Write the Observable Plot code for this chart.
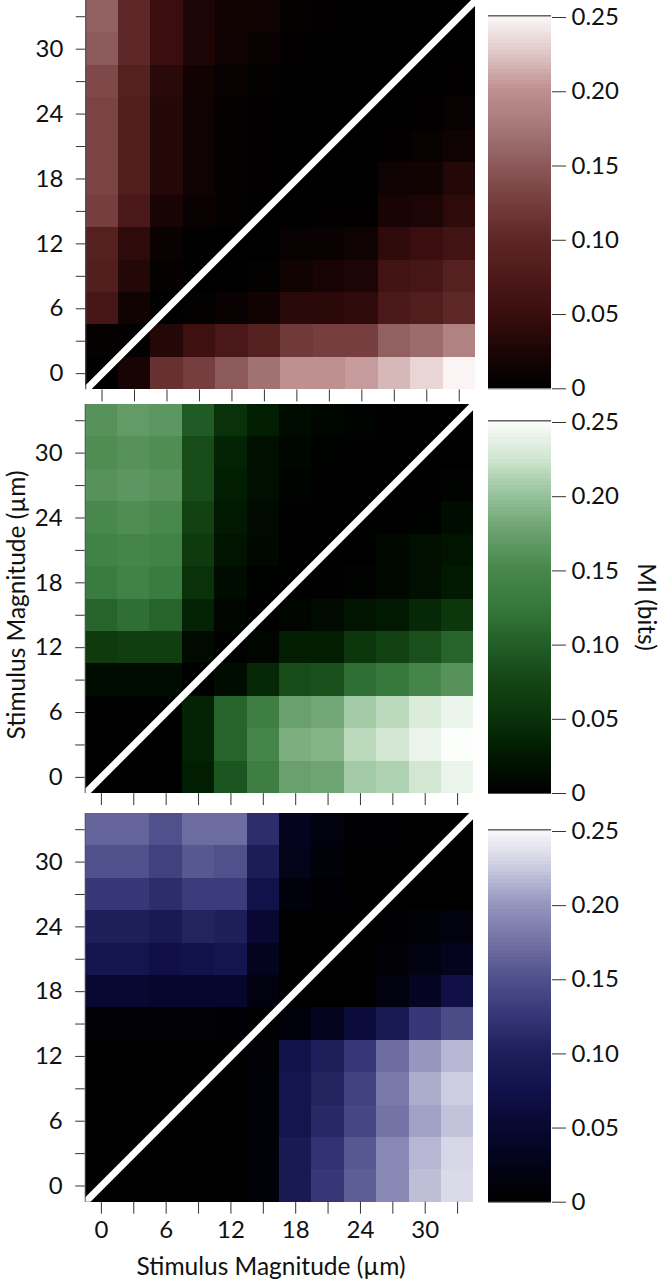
<!DOCTYPE html>
<html>
<head>
<meta charset="utf-8">
<script src="https://cdn.jsdelivr.net/npm/d3@7"></script>
<script src="https://cdn.jsdelivr.net/npm/@observablehq/plot@0.6"></script>
<style>
html,body{margin:0;padding:0;background:#fff;overflow:hidden}
#root{position:relative;width:662px;height:1280px;overflow:hidden;font-family:Lato,sans-serif;color:#111}
#root svg{position:absolute;background:transparent;overflow:visible;font-family:Lato,sans-serif}
.lab{position:absolute;font-size:24.5px;white-space:nowrap;line-height:1}
</style>
</head>
<body>
<div id="root"></div>
<script>
const stimulus = [0,3,6,9,12,15,18,21,24,27,30,33];
const barTicks = [0,0.05,0.10,0.15,0.20,0.25];
const stops = [0,0.025,0.05,0.075,0.10,0.125,0.15,0.175,0.20,0.225,0.25];

const redColors = ["#000000","#1e0505","#3a0e0e","#4e1a1a","#5f2828","#763e3e","#8c5a5a","#a67878","#be9090","#e1c8c8","#fcf8f8"];
const greenColors = ["#000000","#001900","#0a320a","#144614","#235f28","#37783c","#48884c","#6aa06e","#96c39b","#d2e6d2","#fcfefc"];
const blueColors = ["#000000","#030319","#080832","#12124b","#1e1e5a","#373778","#50508c","#7373a5","#9696be","#cdcde1","#fafafc"];

// rows run from stimulus 0 (bottom) to 33 (top)
const redRows = [
 [0,.02,.11,.125,.15,.17,.20,.20,.205,.218,.232,.248],
 [.005,.002,.03,.055,.07,.085,.12,.125,.125,.155,.165,.185],
 [.065,.015,0,.003,.008,.015,.035,.037,.04,.07,.08,.10],
 [.08,.03,.005,0,0,.003,.015,.02,.025,.06,.065,.085],
 [.085,.04,.008,0,0,.001,.006,.008,.012,.04,.05,.06],
 [.125,.07,.02,.008,.003,0,.001,.002,.002,.02,.025,.04],
 [.13,.08,.03,.012,.005,.002,0,0,0,.012,.015,.03],
 [.13,.08,.03,.012,.005,.002,.001,0,0,.002,.006,.012],
 [.13,.08,.03,.012,.005,.002,0,0,0,0,.002,.006],
 [.135,.085,.035,.015,.006,.003,.001,0,0,0,.001,.002],
 [.15,.10,.05,.025,.012,.008,.002,.001,0,0,0,0],
 [.155,.10,.05,.025,.015,.012,.004,.002,.001,0,0,0]
];
const greenRows = [
 [0,0,0,.03,.09,.135,.175,.178,.205,.21,.225,.24],
 [0,0,0,.035,.105,.145,.185,.19,.215,.225,.24,.25],
 [0,0,0,.035,.105,.135,.175,.18,.205,.215,.23,.24],
 [.012,.012,.012,0,.012,.04,.08,.085,.115,.125,.145,.16],
 [.06,.065,.065,.01,.001,.005,.03,.03,.055,.07,.085,.105],
 [.105,.115,.105,.035,.005,0,.005,.01,.02,.025,.04,.055],
 [.13,.14,.13,.05,.012,.002,0,.001,.003,.008,.015,.025],
 [.14,.145,.14,.06,.02,.008,0,0,0,.008,.015,.02],
 [.15,.155,.15,.07,.025,.01,.001,0,0,.001,.002,.012],
 [.16,.165,.16,.08,.03,.015,.004,.001,0,0,0,.003],
 [.155,.16,.155,.08,.035,.015,.006,.002,.001,0,0,0],
 [.16,.17,.165,.095,.05,.03,.012,.006,.004,0,0,0]
];
const blueRows = [
 [0,0,0,0,0,.01,.09,.125,.16,.19,.218,.232],
 [0,0,0,0,0,.01,.09,.12,.155,.19,.215,.23],
 [0,0,0,0,0,.008,.08,.11,.14,.175,.205,.22],
 [0,0,0,0,0,.008,.08,.105,.135,.18,.21,.225],
 [0,0,0,0,0,.006,.075,.10,.125,.17,.2,.215],
 [.006,.006,.006,.006,.005,.001,.012,.03,.06,.09,.125,.145],
 [.05,.05,.045,.045,.045,.015,0,0,0,.015,.035,.07],
 [.08,.08,.07,.075,.08,.03,0,0,0,.006,.018,.03],
 [.10,.10,.09,.105,.10,.05,0,0,0,.002,.008,.015],
 [.125,.125,.115,.13,.13,.075,.012,.004,.001,0,0,0],
 [.15,.15,.135,.155,.15,.095,.025,.01,.001,0,0,0],
 [.165,.165,.15,.17,.17,.115,.03,.015,.005,.002,0,0]
];

const panels = [
 {rows:redRows, colors:redColors, left:85.3, right:475, top:-0.4, bottom:389, barZero:388, barTop:16.7, labels:false},
 {rows:greenRows, colors:greenColors, left:84.7, right:473.3, top:403.6, bottom:792.7, barZero:792.7, barTop:421.7, labels:false},
 {rows:blueRows, colors:blueColors, left:84.7, right:473.3, top:813, bottom:1201.7, barZero:1201.7, barTop:831, labels:true}
];

const root = document.getElementById("root");
const tickColor = "#333";
const fs = 24;

function place(svg, left, top){ svg.style.left = left+"px"; svg.style.top = top+"px"; root.appendChild(svg); }

for (const p of panels) {
  const cells = p.rows.flatMap((row,i)=>row.map((v,j)=>({x:stimulus[j],y:stimulus[i],v})));
  const colorOpt = {type:"linear",domain:stops,range:p.colors,clamp:true};
  const ph = p.bottom-p.top;
  const heat = Plot.plot({
    width:p.right, height:ph+60,
    marginLeft:p.left, marginRight:0, marginTop:0, marginBottom:60,
    style:{background:"transparent",overflow:"visible"},
    x:{domain:[-1.5,34.5],range:[p.left,p.right],axis:null},
    y:{domain:[-1.5,34.5],range:[ph,0],axis:null},
    color:colorOpt,
    marks:[
      Plot.rect(cells,{x1:d=>d.x-1.5,x2:d=>d.x+1.5,y1:d=>d.y-1.5,y2:d=>d.y+1.5,fill:d=>d.v,inset:0,shapeRendering:"crispEdges"}),
      Plot.line([-1.5,34.5],{x:d=>d,y:d=>d,stroke:"#fff",strokeWidth:7,clip:true}),
      Plot.ruleX([-1.5],{stroke:"#555",strokeWidth:1}),
      Plot.axisX({anchor:"bottom",ticks:stimulus,tickSize:12,tickPadding:7,stroke:tickColor,strokeOpacity:1,
        tickFormat:d=>(p.labels&&d%6===0)?String(d):"",label:null,fontSize:fs,fill:"#111",textStroke:"none"}),
      Plot.axisY({anchor:"left",ticks:stimulus,tickSize:9.5,tickPadding:13,stroke:tickColor,strokeOpacity:1,
        tickFormat:d=>d%6===0?String(d):"",label:null,fontSize:fs,fill:"#111"})
    ]
  });
  place(heat,0,p.top);

  const steps = d3.range(0,0.25,0.0025);
  const bh = p.barZero-p.barTop;
  const bar = Plot.plot({
    width:150, height:bh+12,
    marginLeft:0, marginRight:87, marginTop:6, marginBottom:6,
    style:{background:"transparent",overflow:"visible"},
    x:{domain:[0,1],axis:null},
    y:{domain:[0,0.25],range:[bh+6,6],axis:null},
    color:colorOpt,
    marks:[
      Plot.rect(steps,{x1:0,x2:1,y1:d=>d,y2:d=>d+0.0025,fill:d=>d,inset:0,shapeRendering:"crispEdges"}),
      Plot.ruleY([0.2511],{x1:0,x2:1,stroke:"#111",strokeWidth:1}),
      Plot.ruleY([0],{x1:0,x2:1,stroke:"#555",strokeWidth:1}),
      Plot.axisY({anchor:"right",ticks:barTicks,tickSize:14,tickPadding:6,stroke:tickColor,strokeOpacity:1,
        tickFormat:d=>d===0?"0":d.toFixed(2),label:null,fontSize:fs,fill:"#111"})
    ]
  });
  place(bar,488,p.barTop-6);
}

function label(text,x,y,mode){
  const s=document.createElement("span");
  s.className="lab"; s.textContent=text;
  s.style.left=x+"px"; s.style.top=y+"px";
  let t="translate(-50%,-50%)";
  if(mode==="up"){ s.style.writingMode="vertical-rl"; t+=" rotate(180deg)"; }
  if(mode==="down"){ s.style.writingMode="vertical-rl"; }
  s.style.transform=t;
  root.appendChild(s);
}
label("Stimulus Magnitude (µm)",271,1266);
label("Stimulus Magnitude (µm)",15.5,605,"up");
label("MI (bits)",646.5,607,"down");
</script>
</body>
</html>
